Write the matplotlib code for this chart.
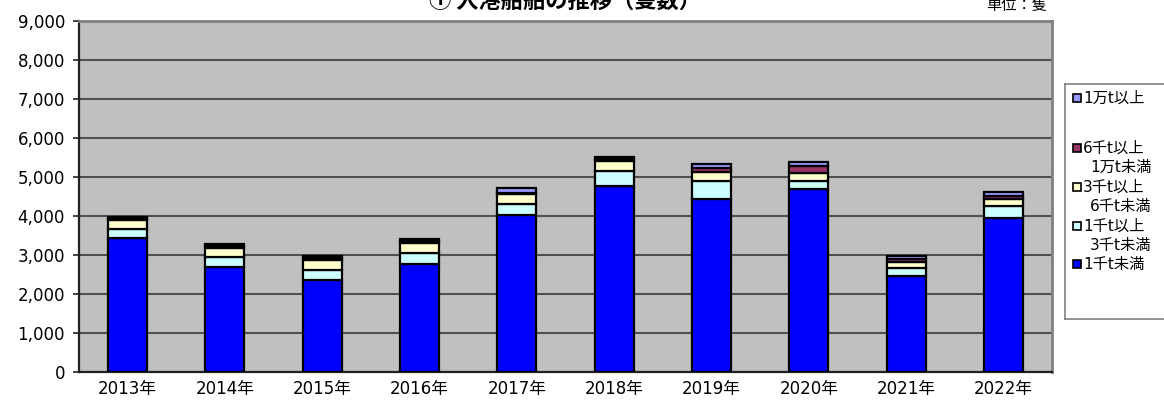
import matplotlib
matplotlib.use("Agg")
import matplotlib.pyplot as plt
from matplotlib.patches import Rectangle
import numpy as np

plt.rcParams["font.family"] = ["DejaVu Sans", "Noto Sans CJK JP"]

# Data (number of ships)
years = ["2013年", "2014年", "2015年", "2016年", "2017年", "2018年", "2019年", "2020年", "2021年", "2022年"]
under_1k = [3436, 2690, 2360, 2770, 4020, 4780, 4445, 4690, 2470, 3950]
from_1k_to_3k = [220, 255, 255, 280, 280, 375, 450, 215, 190, 315]
from_3k_to_6k = [240, 230, 255, 250, 260, 255, 225, 205, 160, 170]
from_6k_to_10k = [35, 50, 50, 55, 30, 50, 100, 170, 80, 90]
over_10k = [35, 50, 50, 55, 120, 60, 110, 95, 80, 80]

series = [under_1k, from_1k_to_3k, from_3k_to_6k, from_6k_to_10k, over_10k]
colors = ["#0000FF", "#CCFFFF", "#FFFFCC", "#993366", "#9999FF"]

W, H = 1164, 404
fig = plt.figure(figsize=(W / 100, H / 100), dpi=100)
ax = fig.add_axes([79 / W, 1 - 372 / H, (1052 - 79) / W, (372 - 21) / H])
ax.set_facecolor("#C0C0C0")

x = np.arange(len(years))
bottom = np.zeros(len(years))
for values, color in zip(series, colors):
    ax.bar(x, values, width=0.4, bottom=bottom, color=color, edgecolor="black", linewidth=1.6, zorder=3)
    bottom += np.array(values)

ax.set_xlim(-0.5, len(years) - 0.5)
ax.set_ylim(0, 9000)
ax.set_yticks(np.arange(0, 9001, 1000))
ax.set_yticklabels([f"{v:,}" for v in range(0, 9001, 1000)], fontsize=12)
ax.set_xticks(x)
ax.set_xticklabels(years, fontsize=12)
ax.yaxis.grid(True, color="#505050", linewidth=1.5, zorder=1)
ax.set_axisbelow(True)
ax.tick_params(axis="y", length=4, width=1.2, pad=6, colors="#222222", labelcolor="black")
ax.tick_params(axis="x", length=0, pad=6)
for side in ["top", "right"]:
    ax.spines[side].set_color("#808080")
    ax.spines[side].set_linewidth(2)
for side in ["left", "bottom"]:
    ax.spines[side].set_color("#222222")
    ax.spines[side].set_linewidth(1.6)

# Title (partly cut at top, as in the source) and unit
fig.text(565 / W, 1 - 1 / H, "① 入港船舶の推移（隻数）", ha="center", va="center",
         fontsize=16, fontweight="bold", family=["Noto Sans CJK JP", "DejaVu Sans"])
fig.text(1047 / W, 1 - 5 / H, "単位：隻", ha="right", va="center", fontsize=11,
         family=["Noto Sans CJK JP", "DejaVu Sans"])

# Legend box drawn by hand (multi-line labels)
lax = fig.add_axes([1065 / W, 1 - 319 / H, 110 / W, (319 - 84) / H])
lax.set_xlim(1065, 1175)
lax.set_ylim(319, 84)
lax.set_xticks([])
lax.set_yticks([])
for s in lax.spines.values():
    s.set_color("#808080")
    s.set_linewidth(1.2)

legend_rows = [
    (98, colors[4], ["1万t以上"]),
    (148, colors[3], ["6千t以上", "1万t未満"]),
    (187, colors[2], ["3千t以上", "6千t未満"]),
    (226, colors[1], ["1千t以上", "3千t未満"]),
    (264, colors[0], ["1千t未満"]),
]
for y0, color, lines in legend_rows:
    lax.add_patch(Rectangle((1073, y0 - 4), 8, 8, facecolor=color, edgecolor="black", linewidth=1.2))
    lax.text(1083, y0, lines[0], va="center", ha="left", fontsize=11)
    if len(lines) > 1:
        lax.text(1090, y0 + 19.5, lines[1], va="center", ha="left", fontsize=11)

fig.savefig("out.png", dpi=100)
